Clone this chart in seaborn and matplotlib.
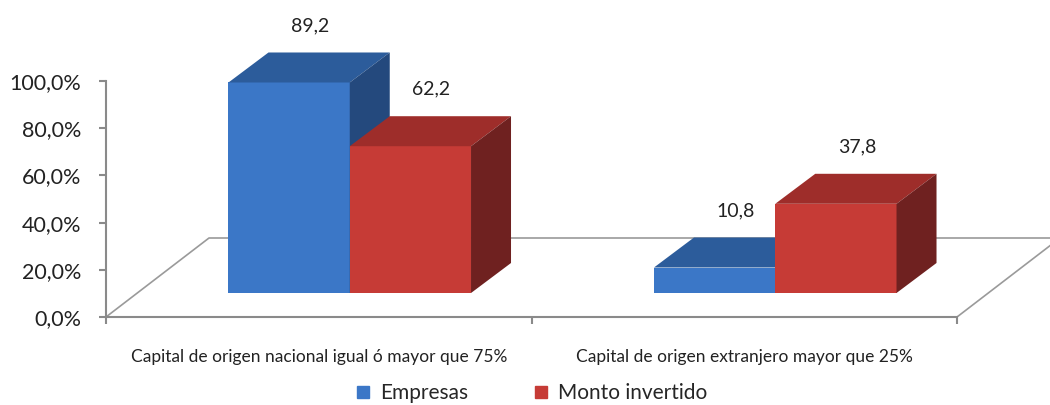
import pandas as pd
import matplotlib.pyplot as plt
import matplotlib.transforms as mtransforms
from matplotlib.patches import Polygon
from matplotlib.lines import Line2D
import seaborn as sns

categorias = [
    "Capital de origen nacional igual ó mayor que 75%",
    "Capital de origen extranjero mayor que 25%",
]
series = ["Empresas", "Monto invertido"]
empresas = [89.2, 10.8]
monto = [62.2, 37.8]
y_ticks = [0, 20, 40, 60, 80, 100]

# colours: front, top, side
azul = ["#3b77c7", "#2c5c9b", "#24497d"]
rojo = ["#c63b36", "#9e2d2a", "#6f2120"]

df = pd.DataFrame(
    {
        "Categoria": categorias * 2,
        "Serie": [series[0]] * 2 + [series[1]] * 2,
        "Valor": empresas + monto,
    }
)

sns.set_theme(style="white")
plt.rcParams["font.family"] = ["Lato", "DejaVu Sans"]

fig = plt.figure(figsize=(10.5, 4.05), dpi=100)
W, H = 1050, 405
ax = fig.add_axes([106 / W, (H - 317) / H, (W - 106) / W, 317 / H])

sns.barplot(
    data=df, x="Categoria", y="Valor", hue="Serie",
    palette=[azul[0], rojo[0]], width=0.57, gap=0,
    saturation=1, legend=False, ax=ax, zorder=3,
)

px_x = 425.5  # pixels per category unit
px_y = 2.36   # pixels per percent
ax.set_xlim(-0.5, -0.5 + (W - 106) / px_x)
ax.set_ylim(0, 317 / px_y)

# shift of the bars towards the back of the floor
shift = ax.transData + mtransforms.ScaledTranslation(0.31, 0.24, fig.dpi_scale_trans)
ddx, ddy = 40 / px_x, 30 / px_y

# floor
fdx, fdy = 103 / px_x, 79 / px_y
gris = "#9a9a9a"
ax.plot([-0.5, -0.5 + fdx, 1.5 + fdx], [0, fdy, fdy], color=gris, lw=1.2, zorder=1)
ax.plot([1.5, 1.5 + fdx], [0, fdy], color=gris, lw=1.2, zorder=1)

for i, (cont, cols) in enumerate(zip(ax.containers, [azul, rojo])):
    z = 3 + 2 * i
    for bar in cont:
        bar.set_transform(shift)
        bar.set_edgecolor("none")
        bar.set_zorder(z)
        x, w, h = bar.get_x(), bar.get_width(), bar.get_height()
        top = Polygon([(x, h), (x + w, h), (x + w + ddx, h + ddy), (x + ddx, h + ddy)],
                      closed=True, facecolor=cols[1], edgecolor="none",
                      transform=shift, zorder=z)
        side = Polygon([(x + w, 0), (x + w + ddx, ddy), (x + w + ddx, h + ddy), (x + w, h)],
                       closed=True, facecolor=cols[2], edgecolor="none",
                       transform=shift, zorder=z)
        ax.add_patch(top)
        ax.add_patch(side)
        ax.annotate(f"{h:.1f}".replace(".", ","), xy=(x + w / 2, h),
                    xytext=(52, 81), textcoords="offset pixels",
                    ha="center", va="center", fontsize=14, color="#222222",
                    zorder=10)

# axes
for s in ["top", "right"]:
    ax.spines[s].set_visible(False)
for s in ["left", "bottom"]:
    ax.spines[s].set_color("#8a8a8a")
    ax.spines[s].set_linewidth(1.5)
ax.spines["left"].set_bounds(0, 100)
ax.spines["bottom"].set_bounds(-0.5, 1.5)

ax.set_yticks(y_ticks)
ax.set_yticklabels([f"{t:.1f}%".replace(".", ",") for t in y_ticks])
ax.tick_params(axis="y", left=True, length=5, width=1.5, color="#8a8a8a",
               pad=13, labelsize=15.5, labelcolor="#222222")

ax.set_xticks([0, 1])
ax.set_xticklabels(categorias)
ax.set_xticks([-0.5, 0.5, 1.5], minor=True)
ax.tick_params(axis="x", which="major", bottom=False, pad=17, labelsize=12.5, labelcolor="#222222")
ax.tick_params(axis="x", which="minor", bottom=True, length=5, width=1.5, color="#8a8a8a")
ax.set_xlabel("")
ax.set_ylabel("")
ax.grid(False)

handles = [
    Line2D([], [], marker="s", ls="none", markersize=9, color=azul[0]),
    Line2D([], [], marker="s", ls="none", markersize=9, color=rojo[0]),
]
fig.legend(handles, series, loc="center", bbox_to_anchor=(530 / W, (H - 393) / H),
           ncol=2, frameon=False, fontsize=15, handletextpad=0.3,
           columnspacing=3.0, handlelength=1.0)

fig.savefig("out.png", dpi=100)
